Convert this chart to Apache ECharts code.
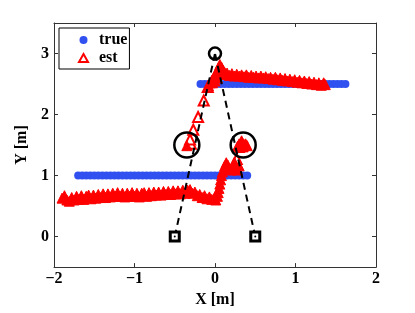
<!DOCTYPE html>
<html>
<head>
<meta charset="utf-8">
<script src="https://cdn.jsdelivr.net/npm/echarts@6/dist/echarts.min.js"></script>
<style>html,body{margin:0;padding:0;background:#fff}#c{width:415px;height:313px}</style>
</head>
<body>
<div id="c"></div>
<script>
// ---- data ----
const xTicks = [-2, -1, 0, 1, 2];
const yTicks = [0, 1, 2, 3];

// true trajectory (two straight segments of dense markers)
const trueLowLevel = 1;
const trueLowX = [-1.70,-1.65,-1.60,-1.55,-1.50,-1.45,-1.40,-1.35,-1.30,-1.25,-1.20,-1.15,-1.10,-1.05,-1.00,-0.95,-0.90,-0.85,-0.80,-0.75,-0.70,-0.65,-0.60,-0.55,-0.50,-0.45,-0.40,-0.35,-0.30,-0.25,-0.20,-0.15,-0.10,-0.05,0.00,0.05,0.10,0.15,0.20,0.25,0.30,0.35,0.40];
const trueHighLevel = 2.5;
const trueHighX = [-0.18,-0.13,-0.08,-0.03,0.02,0.07,0.12,0.17,0.22,0.27,0.32,0.37,0.42,0.47,0.52,0.57,0.62,0.67,0.72,0.77,0.82,0.87,0.92,0.97,1.02,1.07,1.12,1.17,1.22,1.27,1.32,1.37,1.42,1.47,1.52,1.57,1.62];

// estimated trajectory: dense (filled-looking) parts
const estLow = [[-1.90,0.63],[-1.87,0.67],[-1.84,0.60],[-1.81,0.58],[-1.78,0.64],[-1.75,0.60],[-1.72,0.66],[-1.69,0.61],[-1.66,0.67],[-1.63,0.61],[-1.60,0.66],[-1.57,0.68],[-1.54,0.62],[-1.51,0.68],[-1.48,0.63],[-1.45,0.69],[-1.42,0.64],[-1.39,0.70],[-1.36,0.64],[-1.33,0.70],[-1.30,0.65],[-1.27,0.71],[-1.24,0.66],[-1.21,0.72],[-1.18,0.66],[-1.15,0.71],[-1.12,0.65],[-1.09,0.71],[-1.06,0.66],[-1.03,0.72],[-1.00,0.66],[-0.97,0.71],[-0.94,0.65],[-0.91,0.71],[-0.88,0.72],[-0.85,0.66],[-0.82,0.72],[-0.79,0.67],[-0.76,0.73],[-0.73,0.68],[-0.70,0.73],[-0.67,0.68],[-0.64,0.74],[-0.61,0.69],[-0.58,0.74],[-0.55,0.69],[-0.52,0.75],[-0.49,0.70],[-0.46,0.75],[-0.43,0.70],[-0.40,0.76],[-0.37,0.71],[-0.34,0.76],[-0.31,0.77],[-0.28,0.71],[-0.25,0.73],[-0.22,0.67],[-0.19,0.69],[-0.16,0.64],[-0.13,0.67],[-0.10,0.62],[-0.07,0.65],[-0.04,0.61],[-0.01,0.63]];
const estRise = [[0.01,0.60],[0.03,0.66],[0.04,0.72],[0.05,0.79],[0.06,0.86],[0.07,0.93],[0.08,1.00],[0.09,1.06],[0.11,1.10],[0.12,1.16],[0.14,1.21],[0.16,1.17],[0.18,1.12],[0.20,1.09],[0.22,1.15],[0.24,1.22],[0.26,1.14],[0.28,1.09],[0.30,1.16]];
const estRight = [[0.28,1.48],[0.30,1.52],[0.32,1.50],[0.34,1.54],[0.36,1.51],[0.38,1.52],[0.40,1.49],[0.31,1.46],[0.35,1.47],[0.33,1.57]];
const estLeft = [[-0.35,1.49]];
const estPeak = [[-0.08,2.47],[-0.06,2.52],[-0.04,2.56],[-0.02,2.60],[0.00,2.64],[0.02,2.70],[0.04,2.76],[0.06,2.82],[0.08,2.78],[0.00,2.55],[0.03,2.60],[0.06,2.66],[0.09,2.66],[-0.03,2.52],[0.05,2.72]];
const estHigh = [[0.10,2.73],[0.12,2.69],[0.15,2.68],[0.18,2.64],[0.21,2.67],[0.24,2.63],[0.27,2.66],[0.30,2.63],[0.33,2.65],[0.36,2.62],[0.39,2.65],[0.42,2.61],[0.45,2.64],[0.48,2.61],[0.51,2.63],[0.54,2.60],[0.57,2.63],[0.60,2.60],[0.63,2.62],[0.66,2.59],[0.69,2.61],[0.72,2.58],[0.75,2.61],[0.78,2.57],[0.81,2.60],[0.84,2.56],[0.87,2.59],[0.90,2.55],[0.93,2.58],[0.96,2.54],[0.99,2.57],[1.02,2.53],[1.05,2.56],[1.08,2.52],[1.11,2.55],[1.14,2.51],[1.17,2.54],[1.20,2.50],[1.23,2.53],[1.26,2.49],[1.29,2.52],[1.32,2.48],[1.35,2.52],[1.37,2.49]];
// estimated trajectory: sparse (hollow) markers
const estSparse = [[-0.30,1.52],[-0.31,1.59],[-0.27,1.75],[-0.21,1.96],[-0.14,2.23],[-0.09,2.45],[0.27,1.27],[0.24,1.12]];

// anchors / sensors
const anchors = [[-0.5, 0], [0.5, 0]];
const target = [[0, 3]];
const mirrors = [[-0.35, 1.5], [0.35, 1.5]];
const rayLeft = [[-0.5, 0], [0, 3]];
const rayRight = [[0.5, 0], [0, 3]];

// ---- chart ----
const BLUE = '#3050f0', RED = '#ff0000';
const FONT = 'Liberation Serif';
const txt = {fontFamily: FONT, fontWeight: 'bold', fontSize: 16, color: '#000'};
const axisLineStyle = {color: '#333', width: 1};
const fmt = v => (v < 0 ? '\u2212' + Math.abs(v) : String(v));

const chart = echarts.init(document.getElementById('c'), null, {renderer: 'canvas'});
chart.setOption({
  animation: false,
  backgroundColor: '#fff',
  grid: {left: 54, right: 39, top: 23, bottom: 38},
  legend: {
    data: [
      {name: 'true', icon: 'circle', itemStyle: {color: BLUE, borderWidth: 0}},
      {name: 'est', icon: 'triangle', itemStyle: {color: '#fff', borderColor: RED, borderWidth: 2}}
    ],
    orient: 'vertical', left: 59, top: 28,
    padding: [4, 2, 3, 19], itemGap: 2, itemWidth: 9, itemHeight: 8,
    borderColor: '#000', borderWidth: 1, backgroundColor: '#fff',
    textStyle: Object.assign({padding: [0, 0, 0, 6]}, txt), selectedMode: false
  },
  xAxis: [{
    type: 'value', min: -2, max: 2, interval: 1, position: 'bottom',
    axisLine: {show: true, onZero: false, lineStyle: axisLineStyle},
    axisTick: {show: true, inside: true, length: 4, customValues: xTicks, lineStyle: axisLineStyle},
    axisLabel: {show: true, margin: 4, customValues: xTicks, formatter: fmt, ...txt},
    splitLine: {show: false},
    name: 'X [m]', nameLocation: 'middle', nameGap: 15, nameTextStyle: txt
  }, {
    type: 'value', min: -2, max: 2, interval: 1, position: 'top',
    axisLine: {show: true, onZero: false, lineStyle: axisLineStyle},
    axisTick: {show: true, inside: true, length: 4, customValues: xTicks, lineStyle: axisLineStyle},
    axisLabel: {show: false}, splitLine: {show: false}
  }],
  yAxis: [{
    type: 'value', min: -0.5, max: 3.5, position: 'left',
    axisLine: {show: true, onZero: false, lineStyle: axisLineStyle},
    axisTick: {show: true, inside: true, length: 4, customValues: yTicks, lineStyle: axisLineStyle},
    axisLabel: {show: true, margin: 5, customValues: yTicks, formatter: fmt, ...txt},
    splitLine: {show: false},
    name: 'Y [m]', nameLocation: 'middle', nameGap: 18, nameTextStyle: txt
  }, {
    type: 'value', min: -0.5, max: 3.5, position: 'right',
    axisLine: {show: true, onZero: false, lineStyle: axisLineStyle},
    axisTick: {show: true, inside: true, length: 4, customValues: yTicks, lineStyle: axisLineStyle},
    axisLabel: {show: false}, splitLine: {show: false}
  }],
  series: [
    {name: 'true', type: 'scatter', symbol: 'circle', symbolSize: 8, itemStyle: {color: BLUE, opacity: 1},
     data: trueLowX.map(x => [x, trueLowLevel]), z: 2},
    {name: 'true', type: 'scatter', symbol: 'circle', symbolSize: 8, itemStyle: {color: BLUE, opacity: 1},
     data: trueHighX.map(x => [x, trueHighLevel]), z: 2},
    {name: 'est', type: 'scatter', symbol: 'triangle', symbolSize: 10,
     itemStyle: {color: '#fff', borderColor: RED, borderWidth: 2, opacity: 1}, data: estSparse, z: 3},
    {name: 'est', type: 'scatter', symbol: 'triangle', symbolSize: 10,
     itemStyle: {color: RED, borderColor: RED, borderWidth: 1, opacity: 1},
     data: [].concat(estLow, estRise, estRight, estLeft, estPeak, estHigh), z: 3},
    {type: 'line', data: rayLeft, showSymbol: false, symbol: 'none', silent: true,
     lineStyle: {color: '#000', width: 2, type: [7, 5]}, z: 4},
    {type: 'line', data: rayRight, showSymbol: false, symbol: 'none', silent: true,
     lineStyle: {color: '#000', width: 2, type: [7, 5]}, z: 4},
    {type: 'scatter', symbol: 'rect', symbolSize: 9, data: anchors,
     itemStyle: {color: '#fff', borderColor: '#000', borderWidth: 3, opacity: 1}, z: 5},
    {type: 'scatter', symbol: 'circle', symbolSize: 2, data: anchors,
     itemStyle: {color: '#000', opacity: 1}, z: 6},
    {type: 'scatter', symbol: 'circle', symbolSize: 12, data: target,
     itemStyle: {color: 'rgba(0,0,0,0)', borderColor: '#000', borderWidth: 2.5, opacity: 1}, z: 6},
    {type: 'scatter', symbol: 'circle', symbolSize: 25, data: mirrors,
     itemStyle: {color: 'rgba(0,0,0,0)', borderColor: '#000', borderWidth: 2.5, opacity: 1}, z: 6}
  ]
});
</script>
</body>
</html>
